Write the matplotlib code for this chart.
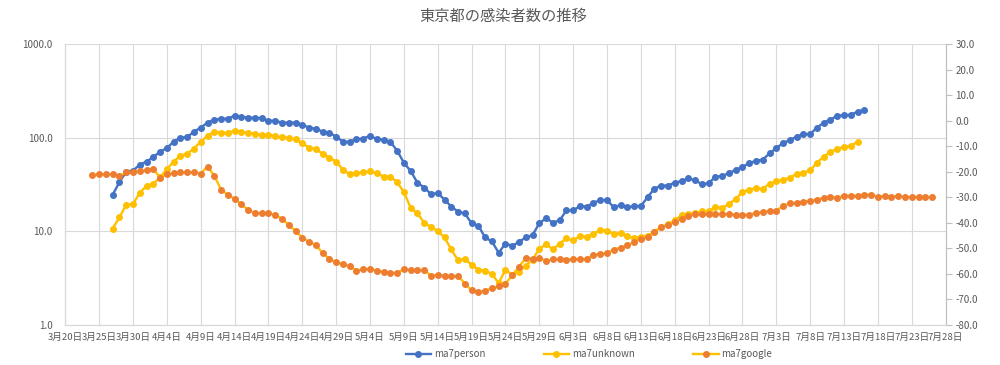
import pandas as pd
import matplotlib
matplotlib.use("Agg")
import matplotlib.pyplot as plt
from matplotlib.ticker import NullLocator, FixedLocator

plt.rcParams['font.family'] = ['Noto Sans CJK JP', 'DejaVu Sans']
plt.rcParams['axes.unicode_minus'] = False

title = "東京都の感染者数の推移"

# 7-day moving averages, one value per day
person_start = "2020-03-27"
ma7person = [
    24.6, 33.6, 43.4, 44.5, 51.5,
    55.5, 62.1, 70.9, 77.4, 90.6, 100.0, 101.6, 115.9, 127.9, 144.6,
    155.6, 159.5, 159.5, 171.8, 167.5, 163.4, 163.4, 160.7, 151.7, 151.7,
    144.6, 144.6, 144.6, 137.7, 127.9, 124.7, 115.9, 113.0, 102.5, 90.6,
    90.6, 96.6, 97.6, 105.0, 96.6, 95.2, 90.6, 72.6, 54.1, 44.0,
    33.1, 29.3, 25.0, 25.6, 21.8, 18.4, 16.2, 15.5, 12.2, 11.5,
    8.6, 7.8, 5.9, 7.4, 7.0, 7.7, 8.6, 9.1, 12.2, 13.8, 12.4,
    13.1, 16.7, 16.7, 18.6, 18.4, 20.1, 21.6, 21.6, 18.0, 19.1,
    18.0, 18.6, 18.6, 23.2, 28.6, 30.8, 30.8, 33.1, 34.4, 36.8,
    35.0, 32.0, 32.5, 38.4, 38.9, 41.9, 45.1, 49.0, 53.2, 56.9,
    58.3, 68.0, 77.4, 87.6, 94.3, 102.5, 109.2, 109.2, 127.9, 144.6,
    155.6, 171.8, 173.0, 175.9, 189.2, 198.9,
]

unknown_start = "2020-03-27"
ma7unknown = [
    10.7, 14.1, 19.3, 19.5, 25.9,
    30.5, 32.3, 37.7, 46.2, 55.5, 64.3, 67.5, 76.3, 90.6, 105.0,
    115.9, 113.0, 113.0, 118.8, 114.8, 113.0, 110.3, 106.7, 106.7, 104.0,
    100.7, 99.0, 95.9, 86.9, 78.2, 75.5, 67.5, 61.2, 55.5, 45.5,
    40.6, 41.9, 42.9, 43.7, 41.6, 38.4, 38.4, 33.6, 26.1, 17.9,
    15.5, 12.4, 11.1, 10.1, 8.6, 6.4, 4.9, 5.1, 4.4, 3.9,
    3.8, 3.5, 2.8, 3.9, 3.45, 3.7, 4.3, 5.0, 6.5, 7.3, 6.4,
    7.4, 8.4, 8.0, 8.9, 8.8, 9.4, 10.3, 10.2, 9.4, 9.5,
    8.9, 8.4, 8.8, 9.0, 9.9, 11.1, 11.9, 13.1, 14.9, 15.3,
    15.7, 16.3, 16.3, 18.2, 17.9, 19.4, 22.3, 26.1, 27.9, 28.8,
    28.3, 32.3, 34.2, 35.6, 37.4, 40.9, 42.3, 44.8, 54.1, 62.7,
    70.9, 75.5, 80.2, 81.3, 90.6,
]

google_start = "2020-03-24"
ma7google = [
    -21.4, -21.0, -21.0, -21.0, -21.8, -20.2, -20.2, -19.8,
    -19.5, -18.9, -22.3, -21.0, -20.6, -20.2, -20.2, -20.2, -20.7, -18.0,
    -21.5, -27.0, -29.0, -30.6, -32.8, -34.9, -36.2, -36.2, -36.2, -36.9,
    -38.4, -40.8, -43.2, -45.8, -47.5, -48.7, -51.8, -54.2, -55.5, -56.2,
    -57.1, -58.7, -58.1, -58.1, -58.7, -59.1, -59.6, -59.6, -58.1, -58.5,
    -58.5, -58.5, -60.7, -60.5, -60.7, -61.0, -60.7, -63.8, -66.4, -67.2,
    -66.5, -65.6, -64.8, -63.9, -60.5, -57.2, -53.8, -54.0, -53.8, -54.8, -54.2,
    -54.2, -54.6, -54.2, -54.2, -54.2, -52.6, -52.1, -51.8, -50.5, -49.7,
    -48.8, -47.5, -46.3, -45.4, -43.5, -41.7, -40.8, -39.5, -38.4, -37.4,
    -36.7, -36.7, -36.7, -36.5, -36.5, -36.5, -36.9, -36.9, -36.9, -36.1,
    -35.7, -35.3, -35.3, -33.3, -32.4, -32.1, -31.7, -31.3, -30.9, -30.2,
    -29.8, -30.2, -29.4, -29.4, -29.4, -29.0, -29.0, -29.8, -29.4, -29.8,
    -29.4, -29.9, -29.9, -29.9, -29.9, -29.9,
]

axis_start = "2020-03-20"
axis_end = "2020-07-28"
left_ticks = [1, 10, 100, 1000]
right_ticks = list(range(-80, 31, 10))

BLUE = "#4472C4"
YELLOW = "#FFC000"
ORANGE = "#ED7D31"
GRID = "#D9D9D9"
TEXT = "#595959"

person_dates = pd.date_range(person_start, periods=len(ma7person))
unknown_dates = pd.date_range(unknown_start, periods=len(ma7unknown))
google_dates = pd.date_range(google_start, periods=len(ma7google))
tick_dates = pd.date_range(axis_start, axis_end, freq="5D")

fig = plt.figure(figsize=(10, 3.65), dpi=100)
ax = fig.add_axes([0.0653, 0.1096, 0.8803, 0.7699])
ax2 = ax.twinx()

lw, ms = 1.7, 4.0
ax.plot(person_dates, ma7person, color=BLUE, lw=lw, marker="o", ms=ms,
        label="ma7person", zorder=3)
ax.plot(unknown_dates, ma7unknown, color=YELLOW, lw=lw, marker="o", ms=ms,
        label="ma7unknown", zorder=3)
ax2.plot(google_dates, ma7google, color=YELLOW, lw=lw, marker="o", ms=ms,
         mfc=ORANGE, mec=ORANGE, label="ma7google", zorder=3)

ax.set_yscale("log")
ax.set_ylim(1, 1000)
ax.yaxis.set_major_locator(FixedLocator(left_ticks))
ax.yaxis.set_minor_locator(NullLocator())
ax.set_yticklabels([f"{v:.1f}" for v in left_ticks])

ax.set_xlim(pd.Timestamp(axis_start), pd.Timestamp(axis_end))
ax.set_xticks(tick_dates)
ax.set_xticklabels([f"{d.month}月{d.day}日" for d in tick_dates])
ax.xaxis.set_minor_locator(NullLocator())

ax2.set_ylim(-80, 30)
ax2.set_yticks(right_ticks)
ax2.set_yticklabels([f"{v:.1f}" for v in right_ticks])

ax.grid(True, which="major", color=GRID, lw=0.8, zorder=0)
ax.set_axisbelow(True)

for a in (ax, ax2):
    for s in a.spines.values():
        s.set_color(GRID)
        s.set_linewidth(0.8)
    a.spines["top"].set_visible(False)
ax2.spines["right"].set_color("#BFBFBF")

ax.tick_params(axis="y", length=0, pad=9, labelsize=7, labelcolor=TEXT)
ax.tick_params(axis="x", length=0, pad=6, labelsize=6.9, labelcolor=TEXT)
ax2.tick_params(axis="y", length=4, color="#BFBFBF", pad=3, labelsize=7,
                labelcolor=TEXT)

fig.text(0.503, 0.955, title, ha="center", va="center", fontsize=11,
         color=TEXT)

handles = ax.get_lines() + ax2.get_lines()
fig.legend(handles, [h.get_label() for h in handles], loc="center",
           bbox_to_anchor=(0.589, 0.03), ncol=3, frameon=False, fontsize=7,
           labelcolor=TEXT, handlelength=2.6, handletextpad=0.3,
           columnspacing=6.0)

fig.savefig("out.png", dpi=100)
